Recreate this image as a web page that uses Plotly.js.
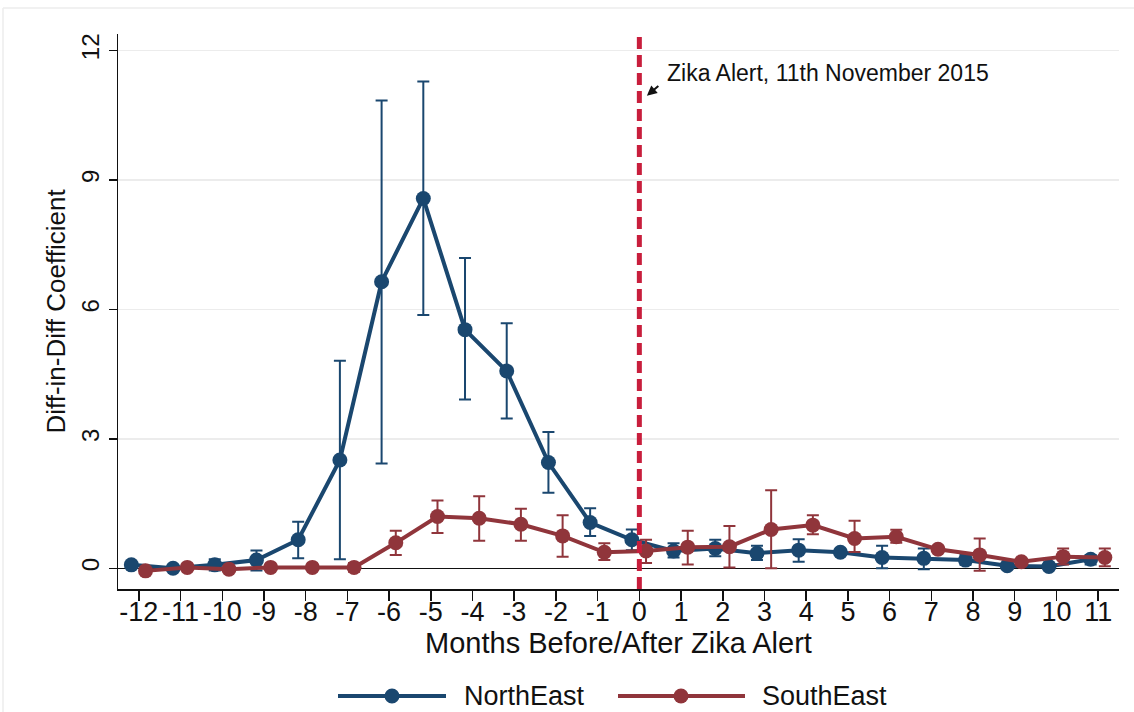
<!DOCTYPE html>
<html>
<head>
<meta charset="utf-8">
<script src="https://cdn.plot.ly/plotly-3.0.1.min.js"></script>
<style>
html,body{margin:0;padding:0;background:#fff;}
#chart{width:1134px;height:712px;}
</style>
</head>
<body>
<div id="chart"></div>
<script>
// ---- data ----
const months = [-12,-11,-10,-9,-8,-7,-6,-5,-4,-3,-2,-1,0,1,2,3,4,5,6,7,8,9,10,11];
const tickLabels = months.map(String);

const northEast      = [0.08,0.00,0.08,0.19,0.66,2.51,6.64,8.57,5.53,4.57,2.45,1.06,0.66,0.40,0.46,0.35,0.42,0.37,0.25,0.23,0.19,0.06,0.04,0.21];
const northEastUpper = [0.11,0.03,0.21,0.41,1.08,4.81,10.84,11.28,7.19,5.68,3.16,1.39,0.90,0.58,0.66,0.52,0.67,0.43,0.52,0.46,0.31,0.12,0.09,0.31];
const northEastLower = [0.05,-0.03,-0.05,-0.05,0.23,0.21,2.43,5.87,3.91,3.47,1.75,0.75,0.42,0.25,0.28,0.19,0.15,0.31,0.00,-0.02,0.08,0.01,-0.01,0.09];

const southEast      = [-0.06,0.02,-0.02,0.02,0.02,0.02,0.59,1.20,1.16,1.02,0.75,0.37,0.40,0.49,0.50,0.90,1.00,0.69,0.73,0.44,0.31,0.15,0.27,0.25];
const southEastUpper = [-0.03,0.05,0.01,0.05,0.05,0.12,0.87,1.57,1.67,1.38,1.23,0.58,0.66,0.87,0.98,1.81,1.23,1.10,0.89,0.50,0.69,0.18,0.46,0.46];
const southEastLower = [-0.09,-0.01,-0.05,-0.01,-0.01,-0.08,0.31,0.82,0.64,0.64,0.27,0.19,0.12,0.09,0.02,0.00,0.79,0.38,0.59,0.38,-0.06,0.12,0.09,0.05];

const seriesNames = ["NorthEast","SouthEast"];
const alertLabel = "Zika Alert, 11th November 2015";
const xTitle = "Months Before/After Zika Alert";
const yTitle = "Diff-in-Diff Coefficient";

// ---- styling ----
const NAVY = "#1a476f", MAROON = "#90353b", ALERT = "#c81e3c";
const FONT = "Liberation Sans, Arial, sans-serif";
const offsetNE = -0.18, offsetSE = 0.16;

function trace(name, vals, up, lo, off, color){
  return {
    type:"scatter", mode:"lines+markers", name:name,
    x: months.map(m => m + off), y: vals,
    line:{color:color, width:4},
    marker:{color:color, size:15},
    error_y:{type:"data", symmetric:false,
      array: up.map((u,i)=> u - vals[i]),
      arrayminus: lo.map((l,i)=> vals[i] - l),
      color:color, thickness:2, width:6},
    showlegend:false, hoverinfo:"x+y"
  };
}

const data = [
  trace(seriesNames[0], northEast, northEastUpper, northEastLower, offsetNE, NAVY),
  trace(seriesNames[1], southEast, southEastUpper, southEastLower, offsetSE, MAROON)
];

// plot area: x 118..1119, y 34..589
const L=118, R=1119, T=34, B=589;
const px = v => (v - L)/(R - L);
const py = v => (B - v)/(B - T);

const legY = py(696);
const shapes = [
  {type:"line", xref:"x", yref:"paper", x0:0, x1:0, y0:0, y1:1,
   line:{color:ALERT, width:5, dash:"12px,6px"}, layer:"above"},
  // faint graph-region frame
  {type:"line", xref:"paper", yref:"paper", x0:px(3), x1:1.1, y0:py(8), y1:py(8), line:{color:"#ececec", width:1.5}},
  {type:"line", xref:"paper", yref:"paper", x0:px(3), x1:px(3), y0:py(8), y1:-0.3, line:{color:"#ececec", width:1.5}},
  // legend keys
  {type:"line", xref:"paper", yref:"paper", x0:px(338), x1:px(446), y0:legY, y1:legY, line:{color:NAVY, width:4}},
  {type:"circle", xref:"paper", yref:"paper", xsizemode:"pixel", ysizemode:"pixel",
   xanchor:px(392), yanchor:legY, x0:-7.5, x1:7.5, y0:-7.5, y1:7.5, fillcolor:NAVY, line:{width:0}},
  {type:"line", xref:"paper", yref:"paper", x0:px(618), x1:px(745), y0:legY, y1:legY, line:{color:MAROON, width:4}},
  {type:"circle", xref:"paper", yref:"paper", xsizemode:"pixel", ysizemode:"pixel",
   xanchor:px(681), yanchor:legY, x0:-7.5, x1:7.5, y0:-7.5, y1:7.5, fillcolor:MAROON, line:{width:0}}
];

const annotations = [
  {xref:"x", yref:"y", x:0.62, y:11.48, text:alertLabel, showarrow:false,
   xanchor:"left", yanchor:"middle", font:{family:FONT, size:23, color:"#111"}},
  {xref:"x", yref:"y", x:0.18, y:10.95, text:" ", showarrow:true,
   ax:13, ay:-11, arrowhead:2, arrowsize:1, arrowwidth:2, arrowcolor:"#111", font:{size:1}},
  {xref:"paper", yref:"paper", x:px(462), y:legY, text:seriesNames[0], showarrow:false,
   xanchor:"left", yanchor:"middle", font:{family:FONT, size:27, color:"#111"}},
  {xref:"paper", yref:"paper", x:px(760), y:legY, text:seriesNames[1], showarrow:false,
   xanchor:"left", yanchor:"middle", font:{family:FONT, size:27, color:"#111"}}
];

const layout = {
  width:1134, height:712,
  margin:{l:L, r:1134-R, t:T, b:712-B, pad:0},
  paper_bgcolor:"#fff", plot_bgcolor:"#fff",
  font:{family:FONT, color:"#111"},
  showlegend:false,
  xaxis:{
    range:[-12.5, 11.5], tickmode:"array", tickvals:months, ticktext:tickLabels,
    tickangle:0, ticks:"outside", ticklen:10, tickwidth:1.5, tickcolor:"#111",
    ticklabelstandoff:-12,
    showline:true, linecolor:"#111", linewidth:1.5, showgrid:false, zeroline:false,
    tickfont:{family:FONT, size:27, color:"#111"},
    title:{text:xTitle, font:{family:FONT, size:29, color:"#111"}, standoff:7}
  },
  yaxis:{
    range:[-0.48, 12.38], tickmode:"array", tickvals:[0,3,6,9,12],
    tickangle:-90, ticks:"outside", ticklen:8, tickwidth:1.5, tickcolor:"#111",
    showline:true, linecolor:"#111", linewidth:1.5,
    showgrid:true, gridcolor:"#ececec", gridwidth:1.5,
    zeroline:true, zerolinecolor:"#111", zerolinewidth:1.5,
    tickfont:{family:FONT, size:24, color:"#111"},
    title:{text:yTitle, font:{family:FONT, size:26, color:"#111"}, standoff:4}
  },
  shapes:shapes, annotations:annotations
};

Plotly.newPlot("chart", data, layout, {staticPlot:true, displayModeBar:false});
</script>
</body>
</html>
